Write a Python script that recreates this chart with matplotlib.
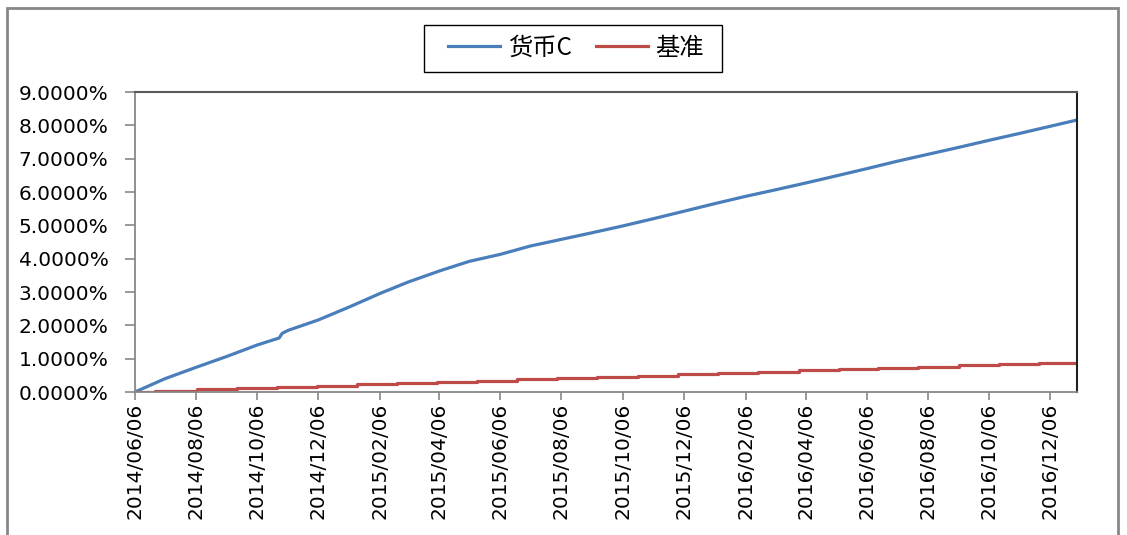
import datetime as dt
import matplotlib
matplotlib.use("Agg")
import matplotlib.pyplot as plt
import matplotlib.dates as mdates
from matplotlib.patches import Rectangle

# 货币C cumulative return (%)
fund_dates = ["2014-06-06", "2014-07-06", "2014-08-06", "2014-09-06", "2014-10-06",
              "2014-10-28", "2014-10-31", "2014-11-06", "2014-12-06", "2015-01-06",
              "2015-02-06", "2015-03-06", "2015-04-06", "2015-05-06", "2015-06-06",
              "2015-07-06", "2015-08-06", "2015-09-06", "2015-10-06", "2015-11-06",
              "2015-12-06", "2016-01-06", "2016-02-06", "2016-03-06", "2016-04-06",
              "2016-05-06", "2016-06-06", "2016-07-06", "2016-08-06", "2016-09-06",
              "2016-10-06", "2016-11-06", "2016-12-06", "2017-01-02"]
fund_vals = [0.00, 0.40, 0.74, 1.07, 1.41,
             1.62, 1.76, 1.85, 2.16, 2.55,
             2.96, 3.30, 3.63, 3.92, 4.13,
             4.38, 4.58, 4.78, 4.98, 5.20,
             5.42, 5.65, 5.87, 6.06, 6.27,
             6.48, 6.70, 6.92, 7.13, 7.34,
             7.55, 7.76, 7.97, 8.16]

# 基准 staircase (%), step dates and levels
bench_dates = ["2014-06-06", "2014-06-26", "2014-08-07", "2014-09-16", "2014-10-26",
               "2014-12-05", "2015-01-14", "2015-02-23", "2015-04-04", "2015-05-14",
               "2015-06-23", "2015-08-02", "2015-09-11", "2015-10-21", "2015-11-30",
               "2016-01-09", "2016-02-18", "2016-03-30", "2016-05-09", "2016-06-17",
               "2016-07-27", "2016-09-06", "2016-10-16", "2016-11-25", "2017-01-02"]
bench_vals = [0.000, 0.038, 0.076, 0.114, 0.152,
              0.190, 0.228, 0.266, 0.304, 0.342,
              0.380, 0.418, 0.456, 0.494, 0.532,
              0.570, 0.608, 0.646, 0.684, 0.722,
              0.760, 0.798, 0.836, 0.874, 0.874]

yticks = [0, 1, 2, 3, 4, 5, 6, 7, 8, 9]
xtick_dates = ["2014-06-06", "2014-08-06", "2014-10-06", "2014-12-06", "2015-02-06",
               "2015-04-06", "2015-06-06", "2015-08-06", "2015-10-06", "2015-12-06",
               "2016-02-06", "2016-04-06", "2016-06-06", "2016-08-06", "2016-10-06",
               "2016-12-06"]

def to_d(lst):
    return [dt.datetime.strptime(s, "%Y-%m-%d") for s in lst]

plt.rcParams['font.family'] = ['DejaVu Sans', 'Noto Sans CJK SC']

fig = plt.figure(figsize=(11.27, 5.35), dpi=100)
ax = fig.add_axes([135 / 1127, 1 - 392 / 535, (1077 - 135) / 1127, 300 / 535])

ax.plot(to_d(fund_dates), fund_vals, color='#4A7EBB', lw=2.3, label='货币C')
ax.step(to_d(bench_dates), bench_vals, where='post', color='#BE4B48', lw=2.3, label='基准')

ax.set_xlim(dt.datetime(2014, 6, 6), dt.datetime(2017, 1, 2))
ax.set_ylim(0, 9)
ax.set_yticks(yticks)
ax.set_yticklabels(['{:.4f}%'.format(v) for v in yticks])
ax.set_xticks(to_d(xtick_dates))
ax.xaxis.set_major_formatter(mdates.DateFormatter('%Y/%m/%d'))
plt.setp(ax.get_xticklabels(), rotation=90)

ax.tick_params(axis='both', direction='out', width=1.2, color='#878787',
               labelsize=14.5, labelcolor='black')
ax.tick_params(axis='y', length=7, pad=12)
ax.tick_params(axis='x', length=6, pad=2)
for side in ['left', 'bottom']:
    ax.spines[side].set_color('#878787')
    ax.spines[side].set_linewidth(1.3)
ax.spines['top'].set_color('#5a5a5a')
ax.spines['top'].set_linewidth(1.5)
ax.spines['right'].set_color('#202020')
ax.spines['right'].set_linewidth(1.5)

leg = ax.legend(loc='center', bbox_to_anchor=(576 / 1127, 1 - 48 / 535),
                bbox_transform=fig.transFigure, ncol=2, frameon=False,
                prop={'family': ['Noto Sans CJK SC', 'DejaVu Sans'], 'size': 17.5},
                handlelength=2.15, handletextpad=0.3, columnspacing=1.0,
                borderpad=0.3, borderaxespad=0)
# legend box
fig.patches.append(Rectangle((424 / 1127, 1 - 72 / 535), (722 - 424) / 1127, 47 / 535,
                             transform=fig.transFigure, fill=False,
                             edgecolor='black', lw=1.0))

# chart area border
fig.patches.append(Rectangle((7 / 1127, -0.02), (1118 - 7) / 1127, 1 - 8 / 535 + 0.02,
                             transform=fig.transFigure, fill=False,
                             edgecolor='#878787', lw=2))

fig.savefig('out.png', dpi=100)
